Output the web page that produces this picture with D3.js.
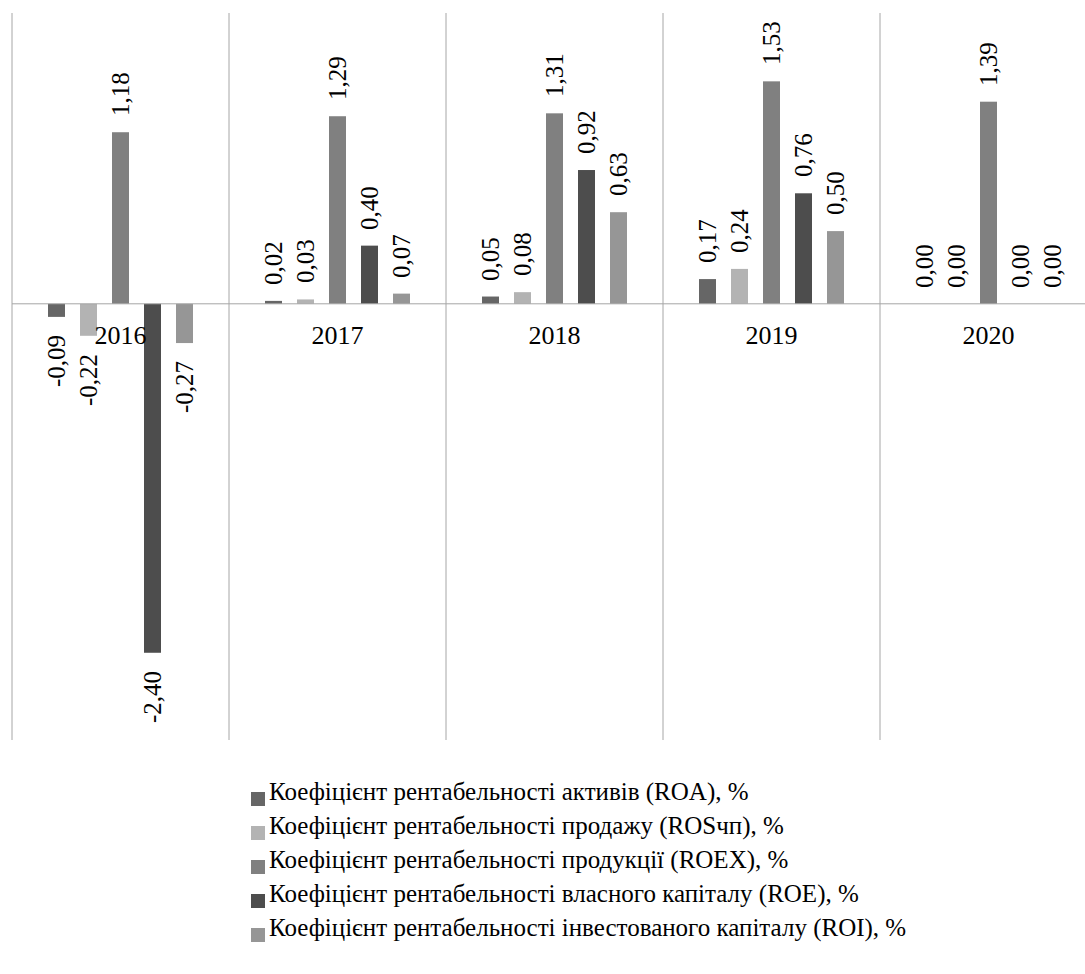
<!DOCTYPE html>
<html>
<head>
<meta charset="utf-8">
<script src="https://cdn.jsdelivr.net/npm/d3@7"></script>
<style>
  html, body { margin: 0; padding: 0; background: #fff; }
  #wrap { position: relative; width: 1085px; height: 974px; overflow: hidden; }
  #wrap svg { position: absolute; left: 0; top: 0; display: block; }
  #labels { position: absolute; left: 0; top: 0; width: 1085px; height: 974px; }
  #labels div {
    position: absolute;
    font-family: "Liberation Serif", "Times New Roman", serif;
    color: #000;
    line-height: 0;
    white-space: nowrap;
    transform-origin: 0 0;
  }
</style>
</head>
<body>
<div id="wrap">
  <svg id="chart" width="1085" height="974"></svg>
  <div id="labels"></div>
</div>
<script>
// Profitability ratios by year, %
const years = ["2016", "2017", "2018", "2019", "2020"];
const seriesNames = [
  "Коефіцієнт рентабельності активів (ROA), %",
  "Коефіцієнт рентабельності продажу (ROSчп), %",
  "Коефіцієнт рентабельності продукції (ROEX), %",
  "Коефіцієнт рентабельності власного капіталу (ROE), %",
  "Коефіцієнт рентабельності інвестованого капіталу (ROI), %"
];
const roa  = [-0.09, 0.02, 0.05, 0.17, 0.00];
const ros  = [-0.22, 0.03, 0.08, 0.24, 0.00];
const roex = [ 1.18, 1.29, 1.31, 1.53, 1.39];
const roe  = [-2.40, 0.40, 0.92, 0.76, 0.00];
const roi  = [-0.27, 0.07, 0.63, 0.50, 0.00];
const seriesValues = [roa, ros, roex, roe, roi];
const colors = ["#666666", "#b3b3b3", "#808080", "#4d4d4d", "#969696"];

const svg = d3.select("#chart");
const labels = d3.select("#labels");
const fmt = v => v.toFixed(2).replace(".", ",");

// Liberation Serif: with line-height 0 the box top sits this far above the baseline
const BASE_SHIFT = (0.891 - 0.216) / 2;

const x = d3.scaleBand().domain(years).range([12, 1097]).padding(0);
const xs = d3.scaleBand().domain(d3.range(seriesNames.length))
  .range([0, x.bandwidth()]).paddingInner(15 / 32).paddingOuter(1.125);
const y = d3.scaleLinear().domain([-3, 2]).range([740, 13]);

const gridColor = "#a6a6a6";

// vertical separators between years
const bounds = years.map(d => x(d)).concat([x(years[years.length - 1]) + x.bandwidth()]);
svg.append("g")
  .selectAll("line")
  .data(bounds)
  .join("line")
  .attr("x1", d => d).attr("x2", d => d)
  .attr("y1", y(2)).attr("y2", y(-3))
  .attr("stroke", gridColor)
  .attr("stroke-width", 1);

// bars
const cells = years.flatMap((yr, yi) =>
  seriesValues.map((vals, si) => ({ yr, si, v: vals[yi] })));

svg.append("g")
  .selectAll("rect")
  .data(cells)
  .join("rect")
  .attr("x", d => x(d.yr) + xs(d.si))
  .attr("width", xs.bandwidth())
  .attr("y", d => y(Math.max(0, d.v)))
  .attr("height", d => Math.abs(y(d.v) - y(0)))
  .attr("fill", d => colors[d.si]);

// zero axis line
svg.append("line")
  .attr("x1", 12).attr("x2", 1097)
  .attr("y1", y(0)).attr("y2", y(0))
  .attr("stroke", gridColor).attr("stroke-width", 1);

// value labels, rotated to read bottom-to-top
labels.selectAll("div.val")
  .data(cells)
  .join("div")
  .attr("class", "val")
  .style("font-size", "25px")
  .style("left", d => (x(d.yr) + xs(d.si) + xs.bandwidth() / 2 + 0.5) + "px")
  .style("top", d => (d.v >= 0 ? y(d.v) - 16 : y(d.v) + 18) + "px")
  .style("transform", d => d.v >= 0 ? "rotate(-90deg)" : "rotate(-90deg) translateX(-100%)")
  .text(d => fmt(d.v));

// year labels under the zero line
labels.selectAll("div.year")
  .data(years)
  .join("div")
  .attr("class", "year")
  .style("font-size", "26px")
  .style("left", d => (x(d) + x.bandwidth() / 2) + "px")
  .style("top", (y(0) + 41 - BASE_SHIFT * 26) + "px")
  .style("transform", "translateX(-50%)")
  .text(d => d);

// legend
const legendY = i => 800 + i * 34;
svg.append("g")
  .selectAll("rect")
  .data(seriesNames)
  .join("rect")
  .attr("x", 251).attr("y", (d, i) => legendY(i) - 8)
  .attr("width", 14).attr("height", 14)
  .attr("fill", (d, i) => colors[i]);
labels.selectAll("div.leg")
  .data(seriesNames)
  .join("div")
  .attr("class", "leg")
  .style("font-size", "25px")
  .style("left", "269px")
  .style("top", (d, i) => (legendY(i) - BASE_SHIFT * 25) + "px")
  .text(d => d);
</script>
</body>
</html>
